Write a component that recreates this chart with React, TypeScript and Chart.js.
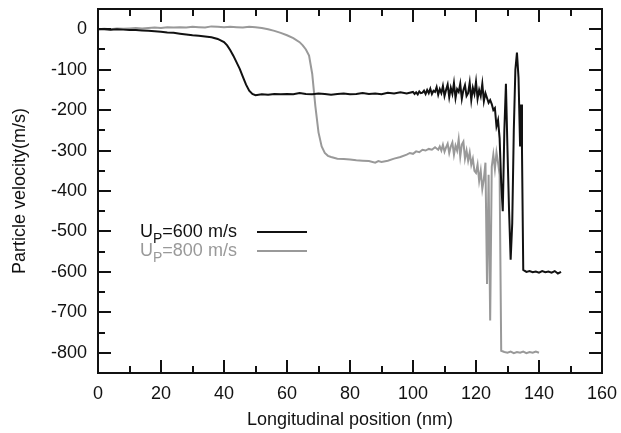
import React, { useEffect, useRef } from "react";
import { Chart, registerables } from "chart.js";

Chart.register(...registerables);

// U_P = 600 m/s (black)
const up600X = [
  0, 2, 4, 6, 8, 10, 12, 14, 16, 18, 20, 22, 24, 26, 28, 30, 32, 34, 36, 38, 40,
  41, 42, 43, 44, 45, 46, 47, 48, 49, 50,
  52, 54, 56, 58, 60, 62, 64, 66, 68, 70, 72, 74, 76, 78, 80, 82, 84, 86, 88, 90, 92, 94, 96, 98,
  100, 100.5, 101, 101.5, 102, 102.5, 103, 103.5, 104, 104.5, 105, 105.5, 106, 106.5, 107, 107.5,
  108, 108.5, 109, 109.5, 110, 110.5, 111, 111.5, 112, 112.5, 113, 113.5, 114, 114.5, 115, 115.5,
  116, 116.5, 117, 117.5, 118, 118.5, 119, 119.5, 120, 120.5, 121, 121.5, 122, 122.5, 123, 123.5,
  124, 124.5, 125, 125.5, 126, 126.5, 127, 127.5, 128, 128.5, 129, 129.5, 130, 130.5,
  131, 131.5, 132, 132.5, 133, 133.5, 134, 134.3, 134.6, 135,
  136, 137, 138, 139, 140, 141, 142, 143, 144, 145, 146, 147,
];
const up600Y = [
  0, 0, -1, 0, -1, -2, -2, -3, -4, -5, -6, -8, -9, -11, -13, -15, -16, -18, -20, -24, -32,
  -40, -52, -66, -82, -98, -118, -137, -152, -160, -163,
  -161, -162, -160, -161, -160, -161, -158, -160, -161, -159, -160, -162, -160, -159, -161, -160, -158, -160, -159, -161, -157, -159, -156, -159,
  -155, -160, -156, -161, -154, -158, -157, -152, -160, -150, -158, -147, -160, -152, -155, -143,
  -162, -148, -158, -140, -165, -150, -137, -168, -145, -160, -133, -170, -148, -155, -135, -172,
  -150, -138, -165, -158, -132, -175, -145, -160, -130, -172, -150, -165, -135, -178, -158, -170,
  -182, -175, -185, -200, -195, -240, -225, -270, -380, -450, -250, -135, -300, -450,
  -570, -480, -250, -100, -58, -120, -290, -186, -300, -595,
  -600, -598, -601, -599, -602, -598, -601, -599, -602, -598, -604, -600,
];

// U_P = 800 m/s (gray)
const up800X = [
  0, 2, 4, 6, 8, 10, 12, 14, 16, 18, 20, 22, 24, 26, 28, 30, 32, 34, 36, 38, 40, 42, 44, 46, 48, 50,
  52, 54, 56, 58, 60, 62, 64, 65, 66, 67, 68, 69, 70, 71, 72, 73, 74,
  76, 78, 80, 82, 84, 86, 88, 89, 90, 92, 94, 96, 98,
  99, 100, 101, 102, 103, 104, 105, 106, 107,
  108, 108.5, 109, 109.5, 110, 110.5, 111, 111.5, 112, 112.5, 113, 113.5, 114, 114.5, 115, 115.5,
  116, 116.5, 117, 117.5, 118, 118.5, 119, 119.5,
  120, 120.5, 121, 121.5, 122, 122.5, 123, 123.5, 124, 124.5, 125, 125.5, 126, 126.5, 127, 127.5,
  128, 129, 130, 131, 132, 133, 134, 135, 136, 137, 138, 139, 140,
];
const up800Y = [
  0, 1, 0, 2, 1, 2, 3, 2, 3, 4, 3, 5, 4, 5, 4, 6, 5, 4, 7, 6, 5, 6, 5, 4, 6, 5,
  3, 0, -4, -9, -15, -22, -32, -40, -50, -65, -110, -190, -255, -290, -306, -313, -316,
  -320, -321, -322, -324, -325, -326, -330, -326, -328, -325, -320, -316, -310,
  -306, -308, -302, -304, -298, -300, -296, -298, -292,
  -298, -290, -300, -286, -303, -292, -283, -306, -290, -280, -310, -288, -300, -272, -315, -285,
  -278, -320, -300, -325, -305, -335, -320, -350,
  -355, -335, -375, -350, -395, -370, -330, -630, -360, -720, -340, -310, -345, -305, -330, -360,
  -795, -798, -800, -797, -801, -798, -800, -797, -801, -798, -800, -797, -800,
];

const seriesMain = ["U", "U"];
const seriesSub = ["P", "P"];
const seriesRest = ["=600 m/s", "=800 m/s"];
const seriesColors = ["#111111", "#999999"];

const xMajorTicks = [0, 20, 40, 60, 80, 100, 120, 140, 160];
const xMinorTicks = [10, 30, 50, 70, 90, 110, 130, 150];
const yMajorTicks = [0, -100, -200, -300, -400, -500, -600, -700, -800];
const yMinorTicks = [-50, -150, -250, -350, -450, -550, -650, -750];

const FONT = "'Liberation Sans', Arial, Helvetica, sans-serif";

const framePlugin = {
  id: "frameTicks",
  afterDraw(chart: any) {
    const { ctx, chartArea: a, scales } = chart;
    const xs = scales.x;
    const ys = scales.y;
    ctx.save();
    ctx.strokeStyle = "#111";
    ctx.lineWidth = 2;
    ctx.lineCap = "butt";
    ctx.beginPath();
    const major = 13;
    const minor = 7;
    const xTick = (v: number, len: number) => {
      const px = Math.round(xs.getPixelForValue(v));
      ctx.moveTo(px, a.bottom);
      ctx.lineTo(px, a.bottom - len);
      ctx.moveTo(px, a.top);
      ctx.lineTo(px, a.top + len);
    };
    const yTick = (v: number, len: number) => {
      const py = Math.round(ys.getPixelForValue(v));
      ctx.moveTo(a.left, py);
      ctx.lineTo(a.left + len, py);
      ctx.moveTo(a.right, py);
      ctx.lineTo(a.right - len, py);
    };
    xMajorTicks.forEach((v) => xTick(v, major));
    xMinorTicks.forEach((v) => xTick(v, minor));
    yMajorTicks.forEach((v) => yTick(v, major));
    yMinorTicks.forEach((v) => yTick(v, minor));
    ctx.stroke();
    ctx.strokeRect(a.left, a.top, a.right - a.left, a.bottom - a.top);

    // legend
    const textX = a.left + 42;
    const lineX0 = a.left + 159;
    const lineX1 = a.left + 209;
    const base0 = 237;
    const rowH = 19;
    for (let i = 0; i < seriesMain.length; i++) {
      const by = base0 + i * rowH;
      ctx.fillStyle = seriesColors[i];
      ctx.textBaseline = "alphabetic";
      ctx.textAlign = "left";
      ctx.font = `18px ${FONT}`;
      ctx.fillText(seriesMain[i], textX, by);
      let x = textX + ctx.measureText(seriesMain[i]).width;
      ctx.font = `14px ${FONT}`;
      ctx.fillText(seriesSub[i], x, by + 6);
      x += ctx.measureText(seriesSub[i]).width;
      ctx.font = `18px ${FONT}`;
      ctx.fillText(seriesRest[i], x, by);
      ctx.strokeStyle = seriesColors[i];
      ctx.lineWidth = 2;
      ctx.beginPath();
      ctx.moveTo(lineX0, by - 5);
      ctx.lineTo(lineX1, by - 5);
      ctx.stroke();
    }
    ctx.restore();
  },
};

export default function App() {
  const ref = useRef<HTMLCanvasElement | null>(null);
  useEffect(() => {
    if (!ref.current) return;
    const chart = new Chart(ref.current, {
      type: "line",
      data: {
        datasets: [
          {
            label: "UP=600 m/s",
            data: up600X.map((x, i) => ({ x, y: up600Y[i] })),
            borderColor: seriesColors[0],
            borderWidth: 2,
            pointRadius: 0,
            tension: 0,
            fill: false,
          },
          {
            label: "UP=800 m/s",
            data: up800X.map((x, i) => ({ x, y: up800Y[i] })),
            borderColor: seriesColors[1],
            borderWidth: 2,
            pointRadius: 0,
            tension: 0,
            fill: false,
          },
        ],
      },
      options: {
        animation: false,
        responsive: false,
        devicePixelRatio: 1,
        layout: { padding: { left: 0, right: 19, top: 9, bottom: 0 } },
        plugins: { legend: { display: false }, tooltip: { enabled: false } },
        scales: {
          x: {
            type: "linear",
            min: 0,
            max: 160,
            afterFit: (s: any) => {
              s.height = 60;
              s.paddingLeft = 0;
              s.paddingRight = 0;
            },
            afterBuildTicks: (s: any) => {
              s.ticks = xMajorTicks.map((v) => ({ value: v }));
            },
            grid: { display: false, drawTicks: false },
            border: { display: false },
            ticks: {
              autoSkip: false,
              maxRotation: 0,
              padding: 10,
              color: "#111",
              font: { family: FONT, size: 18 },
            },
            title: {
              display: true,
              text: "Longitudinal position (nm)",
              color: "#111",
              font: { family: FONT, size: 18 },
              padding: { top: 0, bottom: 2 },
            },
          },
          y: {
            type: "linear",
            min: -850,
            max: 50,
            afterFit: (s: any) => {
              s.width = 98;
              s.paddingTop = 0;
              s.paddingBottom = 0;
            },
            afterBuildTicks: (s: any) => {
              s.ticks = yMajorTicks.map((v) => ({ value: v }));
            },
            grid: { display: false, drawTicks: false },
            border: { display: false },
            ticks: {
              autoSkip: false,
              padding: 11,
              color: "#111",
              font: { family: FONT, size: 18 },
            },
            title: {
              display: true,
              text: "Particle velocity(m/s)",
              color: "#111",
              font: { family: FONT, size: 18 },
              padding: { top: 9, bottom: 0 },
            },
          },
        },
      },
      plugins: [framePlugin],
    });
    return () => chart.destroy();
  }, []);
  return (
    <div style={{ position: "fixed", left: 0, top: 0, width: 621, height: 433, background: "#fff" }}>
      <canvas ref={ref} width={621} height={433} style={{ display: "block" }} />
    </div>
  );
}
